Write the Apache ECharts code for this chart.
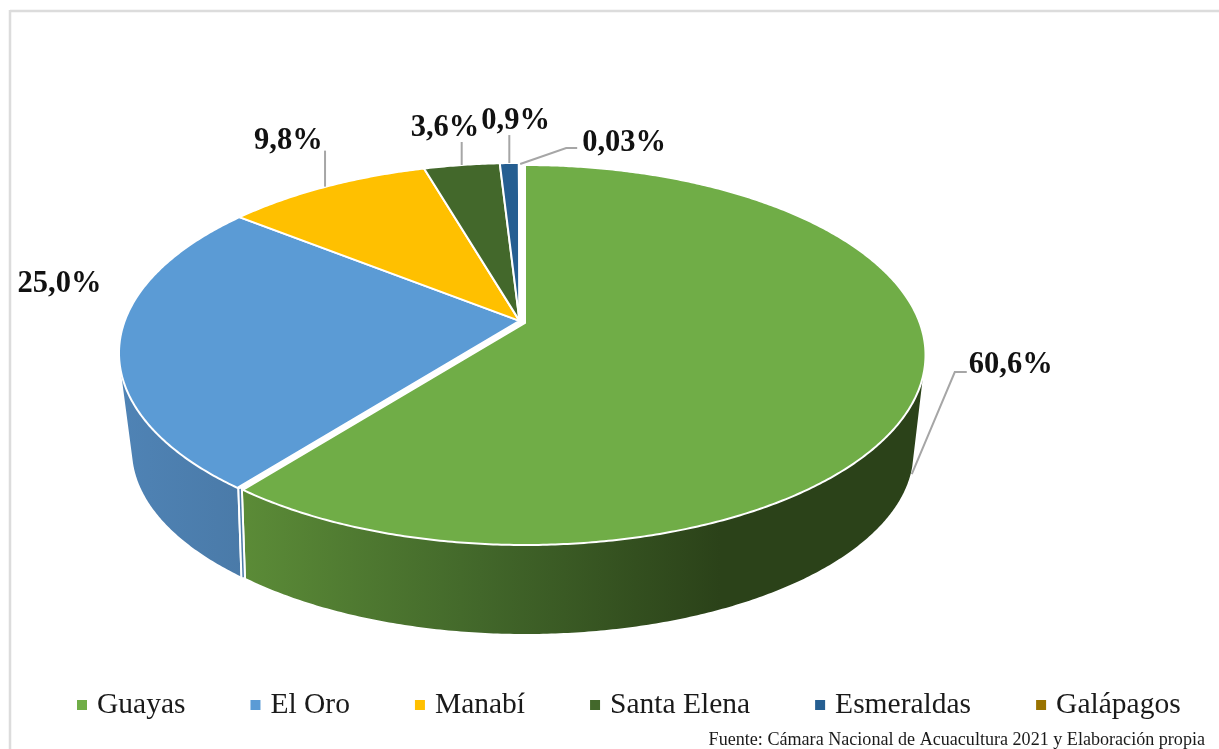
<!DOCTYPE html>
<html>
<head>
<meta charset="utf-8">
<style>html,body{margin:0;padding:0;background:#fff}#c{width:1219px;height:749px}</style>
<script src="https://cdn.jsdelivr.net/npm/echarts@6/dist/echarts.min.js"></script>
</head>
<body>
<div id="c"></div>
<script>
var categories = ['Guayas', 'El Oro', 'Manabí', 'Santa Elena', 'Esmeraldas', 'Galápagos'];
var shares = [60.6, 25.0, 9.8, 3.6, 0.9, 0.03];
var shareLabels = ['60,6%', '25,0%', '9,8%', '3,6%', '0,9%', '0,03%'];
var colors = ['#70AD47', '#5B9BD5', '#FFC000', '#43682B', '#255E91', '#997300'];
var source = 'Fuente: Cámara Nacional de Acuacultura 2021 y Elaboración propia';

var FONT = '"Liberation Serif", "Times New Roman", serif';
// view of the 3D disc
var TOP = {cx: 519.5, cy: 353, rx: 400.5, ry: 190, a: 0.169};
var BASE = {cx: 520, cy: 450, rx: 388, ry: 182, a: 0.2};
var EXPLODE = [[5.5, 2], null, null, null, null, null];
var WALL_FROM = 106, WALL_TO = 255;
var wallStops = [
  [[245, '#5B8B37'], [480, '#42672A'], [720, '#2B4219'], [925, '#2B4219']],
  [[120, '#4F83B5'], [245, '#4A7AA8']]
];
// label placement relative to the slice's rim point at mid-angle
var leaderOffsets = [
  [[-8, 87], [35, -15], [47, -15]],
  null,
  [[-1, 0], [-1, -36]],
  [[0, 0], [0, -23]],
  [[0, 0], [0, -28]],
  [[1, 1], [47, -15], [58, -15]]
];
var textOffsets = [[49, -22], [-102, -59], [-72, -46], [-51, -37], [-28, -42], [63, -20]];

var total = shares.reduce(function (s, v) { return s + v; }, 0);
var startAngles = [];
shares.reduce(function (s, v, i) { startAngles[i] = s; return s + v / total * 360; }, 0);

function project(view, deg, off) {
  var t = deg * Math.PI / 180, x = Math.sin(t), y = -Math.cos(t), a = view.a;
  var d = 1 - a * y;
  return [
    view.cx + view.rx * x * Math.sqrt(1 - a * a) / d + (off ? off[0] : 0),
    view.cy + view.ry * (y - a) / d + (off ? off[1] : 0)
  ];
}
function apex(view, off) {
  return [view.cx + (off ? off[0] : 0), view.cy - view.ry * view.a + (off ? off[1] : 0)];
}
function arc(view, from, to, off) {
  var n = Math.max(2, Math.ceil(Math.abs(to - from) / 0.5)), pts = [];
  for (var k = 0; k <= n; k++) pts.push(project(view, from + (to - from) * k / n, off));
  return pts;
}
function grad(stops) {
  var x0 = stops[0][0], x1 = stops[stops.length - 1][0];
  return new echarts.graphic.LinearGradient(x0, 0, x1, 0, stops.map(function (s) {
    return {offset: (s[0] - x0) / (x1 - x0), color: s[1]};
  }), true);
}

function renderSlice(params, api) {
  var i = params.seriesIndex;
  var sweep = api.value(0) / total * 360, from = startAngles[i], to = from + sweep, off = EXPLODE[i];
  var children = [];
  var wFrom = Math.max(from, WALL_FROM), wTo = Math.min(to, WALL_TO);
  if (wTo > wFrom && wallStops[i]) {
    children.push({
      type: 'polygon',
      shape: {points: arc(TOP, wFrom, wTo, off).concat(arc(BASE, wTo, wFrom, off))},
      style: {fill: grad(wallStops[i])}
    });
  }
  if (i === 1) { // the open cut between the pulled-out slice and the rest
    var t0 = project(TOP, from, null), b0 = project(BASE, from, null);
    var t1 = project(TOP, from, EXPLODE[0]), b1 = project(BASE, from, EXPLODE[0]);
    children.push({type: 'polygon', shape: {points: [t0, t1, b1, b0]}, style: {fill: '#fff'}});
    children.push({
      type: 'line',
      shape: {x1: (t0[0] + t1[0]) / 2, y1: (t0[1] + t1[1]) / 2, x2: (b0[0] + b1[0]) / 2, y2: (b0[1] + b1[1]) / 2},
      style: {stroke: '#4A7AA8', lineWidth: 1.5}
    });
  }
  children.push({
    type: 'polygon',
    shape: {points: [apex(TOP, off)].concat(arc(TOP, from, to, off))},
    style: {fill: colors[i], stroke: '#fff', lineWidth: 2}
  });
  var rim = project(TOP, from + sweep / 2, off);
  if (leaderOffsets[i]) {
    children.push({
      type: 'polyline',
      shape: {points: leaderOffsets[i].map(function (o) { return [rim[0] + o[0], rim[1] + o[1]]; })},
      style: {fill: null, stroke: '#A6A6A6', lineWidth: 2},
      z2: 20
    });
  }
  children.push({
    type: 'text',
    x: rim[0] + textOffsets[i][0],
    y: rim[1] + textOffsets[i][1],
    style: {text: shareLabels[i], font: 'bold 30.5px ' + FONT, fill: '#111', textAlign: 'left', textVerticalAlign: 'middle'},
    z2: 30
  });
  return {type: 'group', children: children};
}

var chart = echarts.init(document.getElementById('c'), null, {renderer: 'canvas', width: 1219, height: 749});
chart.setOption({
  animation: false,
  backgroundColor: '#fff',
  legend: {
    data: categories,
    left: 72,
    top: 685,
    itemWidth: 10,
    itemHeight: 10,
    itemGap: 65,
    icon: 'rect',
    selectedMode: false,
    textStyle: {fontFamily: FONT, fontSize: 29.5, color: '#1a1a1a', padding: [0, 0, 0, 5]}
  },
  graphic: [
    {type: 'line', shape: {x1: 10, y1: 11, x2: 1219, y2: 11}, style: {stroke: '#DCDCDC', lineWidth: 2.5}, silent: true},
    {type: 'line', shape: {x1: 10, y1: 10, x2: 10, y2: 749}, style: {stroke: '#DCDCDC', lineWidth: 2.5}, silent: true},
    {type: 'text', right: 14, top: 731, style: {text: source, font: '18.1px ' + FONT, fill: '#1a1a1a'}, silent: true}
  ],
  series: categories.map(function (name, i) {
    return {
      type: 'custom',
      name: name,
      coordinateSystem: 'none',
      itemStyle: {color: colors[i]},
      data: [[shares[i]]],
      renderItem: renderSlice,
      silent: true,
      clip: false
    };
  })
});
</script>
</body>
</html>
